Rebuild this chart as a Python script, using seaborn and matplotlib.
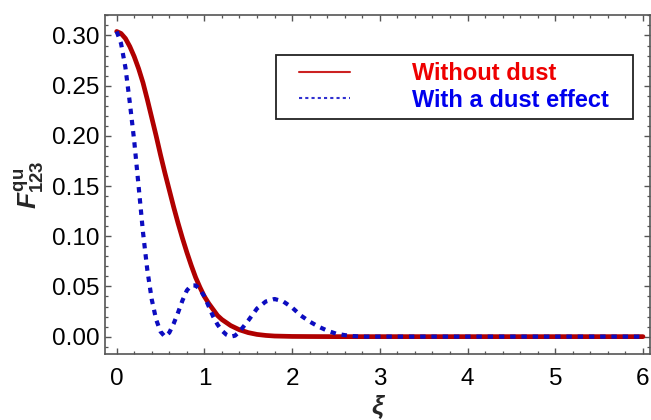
import numpy as np
import pandas as pd
import matplotlib
matplotlib.use("Agg")
import matplotlib.pyplot as plt
from matplotlib.lines import Line2D
from matplotlib.legend_handler import HandlerLine2D
from matplotlib.ticker import MultipleLocator
import seaborn as sns

# ---- data ----
x_red = [0.0, 0.05, 0.1, 0.15, 0.2, 0.25, 0.3, 0.35, 0.4, 0.45, 0.5, 0.55,
         0.6, 0.65, 0.7, 0.75, 0.8, 0.85, 0.9, 0.95, 1.0, 1.05, 1.1, 1.15,
         1.2, 1.3, 1.4, 1.5, 1.6, 1.7, 1.8, 2.0, 2.2, 2.5, 3.0, 4.0, 5.0, 6.0]
f_red = [0.304, 0.302, 0.297, 0.289, 0.279, 0.267, 0.253, 0.236, 0.218,
         0.200, 0.181, 0.163, 0.146, 0.129, 0.113, 0.098, 0.084, 0.071,
         0.059, 0.049, 0.040, 0.033, 0.027, 0.021, 0.017, 0.011, 0.0068,
         0.0040, 0.0022, 0.0012, 0.0006, 0.0002, 0.0001, 0.0, 0.0, 0.0,
         0.0, 0.0]

x_blue = [0.0, 0.05, 0.1, 0.15, 0.2, 0.25, 0.3, 0.35, 0.4, 0.45, 0.5, 0.55,
          0.6, 0.65, 0.7, 0.75, 0.8, 0.85, 0.9, 0.95, 1.0, 1.05, 1.1, 1.15,
          1.2, 1.25, 1.3, 1.35, 1.4, 1.5, 1.6, 1.7, 1.8, 1.9, 2.0, 2.1, 2.2,
          2.3, 2.4, 2.5, 2.6, 2.7, 2.8, 3.0, 4.0, 5.0, 6.0]
f_blue = [0.304, 0.292, 0.268, 0.233, 0.195, 0.150, 0.104, 0.066, 0.037,
          0.017, 0.005, 0.0, 0.004, 0.013, 0.024, 0.036, 0.046, 0.051, 0.051,
          0.047, 0.040, 0.030, 0.020, 0.012, 0.006, 0.002, 0.0, 0.001, 0.005,
          0.016, 0.028, 0.035, 0.0375, 0.035, 0.029, 0.021, 0.015, 0.010,
          0.006, 0.003, 0.0015, 0.0005, 0.0, 0.0, 0.0, 0.0, 0.0]

series_labels = ["Without dust", "With a dust effect"]
x_ticks = [0, 1, 2, 3, 4, 5, 6]
y_ticks = [0.00, 0.05, 0.10, 0.15, 0.20, 0.25, 0.30]

# ---- style ----
sns.set_style("ticks")
plt.rcParams["font.family"] = ["Liberation Sans", "DejaVu Sans"]
plt.rcParams["mathtext.fontset"] = "custom"
plt.rcParams["mathtext.it"] = "Liberation Sans:italic:bold"
plt.rcParams["mathtext.bf"] = "Liberation Sans:bold"
plt.rcParams["mathtext.rm"] = "Liberation Sans:bold"

fig = plt.figure(figsize=(6.51, 4.20), dpi=100)
ax = fig.add_axes([105 / 651, (420 - 354) / 420, (650 - 105) / 651, (354 - 15) / 420])

red_c = "#b00000"
blue_c = "#0c0cc0"

df_r = pd.DataFrame({"x": x_red, "y": f_red})
df_b = pd.DataFrame({"x": x_blue, "y": f_blue})
sns.lineplot(data=df_r, x="x", y="y", ax=ax, color=red_c, linewidth=3.4)
sns.lineplot(data=df_b, x="x", y="y", ax=ax, color=blue_c, linewidth=3.0,
             linestyle=(0, (1.3, 1.4)), dash_capstyle="butt")

ax.set_xlim(-0.133, 6.08)
ax.set_ylim(-0.0173, 0.3204)
ax.set_xticks(x_ticks)
ax.set_xticklabels([str(t) for t in x_ticks])
ax.set_yticks(y_ticks)
ax.set_yticklabels([f"{t:.2f}" for t in y_ticks])
ax.xaxis.set_minor_locator(MultipleLocator(0.2))
ax.yaxis.set_minor_locator(MultipleLocator(0.01))

spine_c = "#555555"
for s in ax.spines.values():
    s.set_visible(True)
    s.set_color(spine_c)
    s.set_linewidth(1.2)
ax.tick_params(which="both", direction="in", top=True, right=True,
               color=spine_c, labelsize=17.5, labelcolor="black")
ax.tick_params(which="major", length=4, width=1.0)
ax.tick_params(which="minor", length=2.3, width=0.9)
ax.tick_params(axis="x", which="major", pad=10)
ax.tick_params(axis="y", which="major", pad=4)

ax.set_xlabel("ξ", fontsize=19, fontweight="bold", style="italic", labelpad=4)
ax.set_ylabel(r"$F^{\mathbf{qu}}_{\mathbf{123}}$", fontsize=19, labelpad=4)

# ---- legend ----
handles = [Line2D([], [], color="#cc2222", linewidth=1.5),
           Line2D([], [], color="#3030d0", linewidth=1.5,
                  linestyle=(0, (1.5, 1.5)))]
hmap = {h: HandlerLine2D(xpad=0.66) for h in handles}
leg = ax.legend(handles, series_labels, loc="upper left",
                bbox_to_anchor=(0.3138, 0.3, 0.655, 0.582), mode="expand",
                borderaxespad=0, prop={"size": 17, "weight": "bold"},
                handlelength=2.85, handletextpad=2.6, borderpad=0.3,
                labelspacing=0.15,
                frameon=True, fancybox=False, handler_map=hmap,
                labelcolor=["#ee0000", "#0000ee"])
leg.get_frame().set_edgecolor("#222222")
leg.get_frame().set_linewidth(1.3)
leg.get_frame().set_alpha(1)

fig.savefig("out.png", dpi=100)
